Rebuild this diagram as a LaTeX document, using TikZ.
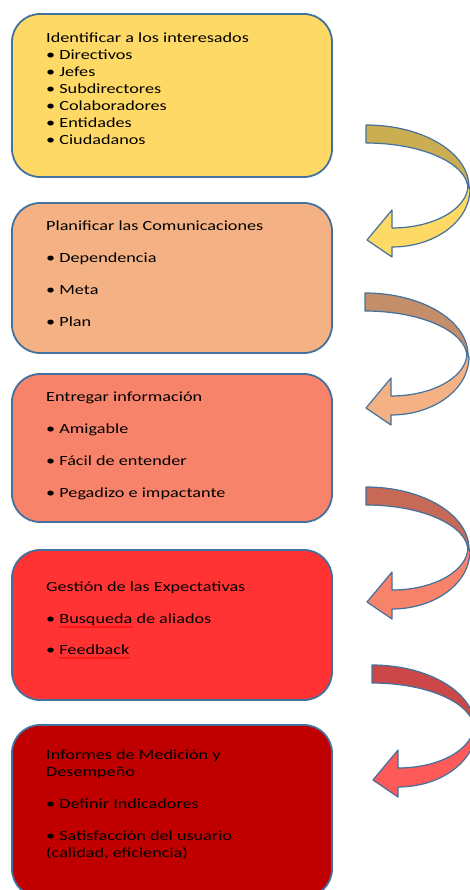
\documentclass[tikz,border=0pt]{standalone}
\usepackage{fontspec}
\setmainfont[FakeStretch=1.3]{Carlito}
\usetikzlibrary{decorations.pathmorphing}

\definecolor{edge}{HTML}{41719C}
\definecolor{amarillo}{HTML}{FFD966}
\definecolor{durazno}{HTML}{F4B183}
\definecolor{salmon}{HTML}{F8836B}
\definecolor{rojo}{HTML}{FF3333}
\definecolor{vino}{HTML}{C00000}
\definecolor{flecha}{HTML}{FF5A5A}

% curved block arrow: start point, colour
\newcommand{\bendarrow}[2]{%
  \begin{scope}[shift={(#1)}]
    \draw [fill=#2!80!black, draw=edge, line width=1.2pt, line join=round]
      (0,0) .. controls (56.9,0) and (103,27.8) .. (103,62)
      -- (102,64) .. controls (102,38.6) and (56.3,18) .. (0,18) -- cycle;
    \draw [fill=#2, draw=edge, line width=1.2pt, line join=round]
      (102,60) .. controls (102,83.7) and (68,103) .. (26,103)
      -- (26,85) -- (1,115) -- (26,132) -- (26,122)
      .. controls (69.1,122) and (104,96) .. (104,64) -- cycle;
  \end{scope}}

\begin{document}
\begin{tikzpicture}[
            x=1pt, y=-1pt,
            stage/.style = {draw=edge, line width=1.8pt, rounded corners=28pt,
                    minimum width=320pt, inner sep=0pt},
            lines/.style = {inner sep=0pt, anchor=base west, align=left,
                    font=\fontsize{14}{17}\selectfont},
            squiggle/.style = {red, line width=0.6pt, decorate,
                    decoration={snake, amplitude=0.7pt, segment length=3pt}}]

        \useasboundingbox (0,0) rectangle (470,890);
        \clip (0,0) rectangle (470,890);

        % boxes
        \node [stage, fill=amarillo, minimum height=163pt] (B-1) at (172,95.5) {};
        \node [stage, fill=durazno, minimum height=150pt]  (B-2) at (172,278) {};
        \node [stage, fill=salmon, minimum height=148pt]   (B-3) at (172,448) {};
        \node [stage, fill=rojo, minimum height=150pt]     (B-4) at (172,625) {};
        \node [stage, fill=vino, minimum height=172pt]     (B-5) at (172,811) {};

        % texts (placed by the baseline of their last line)
        \node [lines] (T-1) at (46,145) {Identificar a los interesados\\
            • Directivos\\ • Jefes\\ • Subdirectores\\ • Colaboradores\\
            • Entidades\\ • Ciudadanos};
        \node [lines] (T-2) at (46,326) {Planificar las Comunicaciones\\[15pt]
            • Dependencia\\[15pt] • Meta\\[15pt] • Plan};
        \node [lines] (T-3) at (46,497) {Entregar información\\[15pt]
            • Amigable\\[15pt] • Fácil de entender\\[15pt] • Pegadizo e impactante};
        \node [lines] (T-4) at (46,654) {Gestión de las Expectativas\\[15pt]
            • Busqueda de aliados\\[14pt] • Feedback};
        \node [lines] (T-5) at (46,857) {Informes de Medición y\\Desempeño\\[15pt]
            • Definir Indicadores\\[15pt] • Satisfacción del usuario\\
            (calidad, eficiencia)};

        % spelling marks
        \draw [squiggle] (59,627) -- (133,627);
        \draw [squiggle] (59,658) -- (130,658);

        % arrows between the steps
        \coordinate (A-1) at (366,125);
        \coordinate (A-2) at (365,293);
        \coordinate (A-3) at (366,487);
        \coordinate (A-4) at (372,665);
        \bendarrow{A-1}{amarillo}
        \bendarrow{A-2}{durazno}
        \bendarrow{A-3}{salmon}
        \bendarrow{A-4}{flecha}
    \end{tikzpicture}
\end{document}
